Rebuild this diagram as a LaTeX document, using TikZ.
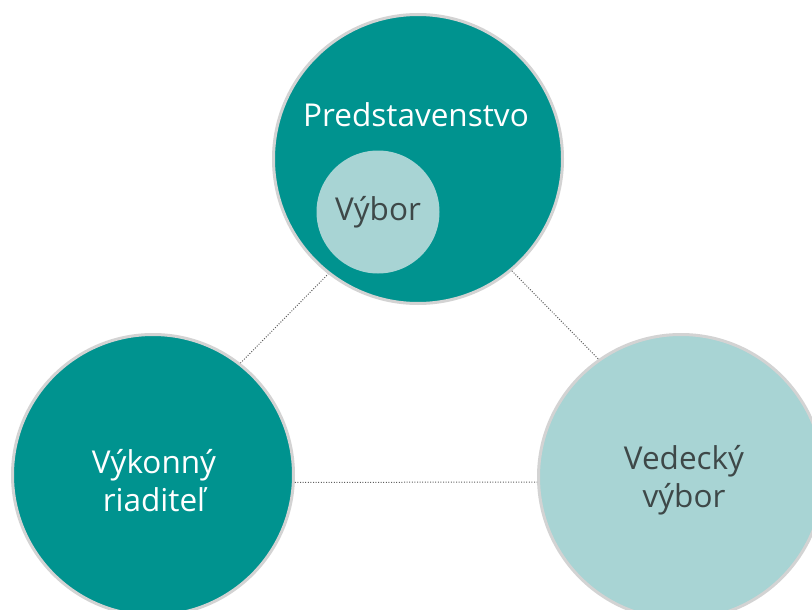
\documentclass[tikz,border=0pt]{standalone}
\usepackage{fontspec}
\setmainfont{Open Sans}
\usetikzlibrary{
	positioning		% relative placement
}
\definecolor{boardteal}{HTML}{00938F}
\definecolor{paleteal}{HTML}{A8D4D4}
\definecolor{ringgray}{HTML}{D3D3D3}
\definecolor{inkgray}{HTML}{3E4848}
\definecolor{dotgray}{HTML}{5E5E5E}

\begin{document}
\begin{tikzpicture}[
			x=1pt, y=-1pt,
			body/.style={
				circle,
				draw=ringgray, line width=3pt,
				inner sep=0pt
			},
			darkbody/.style={
				body,
				fill=boardteal
			},
			palebody/.style={
				body,
				fill=paleteal
			},
			caption/.style={
				font=\fontsize{31.5}{38}\selectfont,
				align=center,
				inner sep=0pt
			},
			link/.style={
				draw=dotgray,
				line width=1pt,
				dash pattern=on 1pt off 1.6pt
			}]

			\clip (0,0) rectangle (812,610);

			%%% the three bodies
			\node [darkbody, minimum size=289pt] (board) at (418,159) {};
			\node [darkbody, minimum size=281pt] (director) at (153,475) {};
			\node [palebody, minimum size=285pt] (science) at (681,477) {};

			% committee inside the board
			\node [circle, fill=paleteal, minimum size=123pt, inner sep=0pt] (committee) at (378,212) {};

			%%% texts
			\node [caption, text=white] (boardname) at (416,115) {Predstavenstvo};
			\node [caption, text=inkgray] (committeename) at (committee) {Výbor};
			\node [caption, text=white] (directorname) at (154,481) {Výkonný\\riaditeľ};
			\node [caption, text=inkgray] (sciencename) at (684,480) {Vedecký\\výbor};

			%%% dotted links between the bodies
			\path [link] (director.52) edge (board.232);
			\path [link] (board.-50) edge (science.125);
			\path [link] (director.-3.6) edge (science.182);

		\end{tikzpicture}
\end{document}
